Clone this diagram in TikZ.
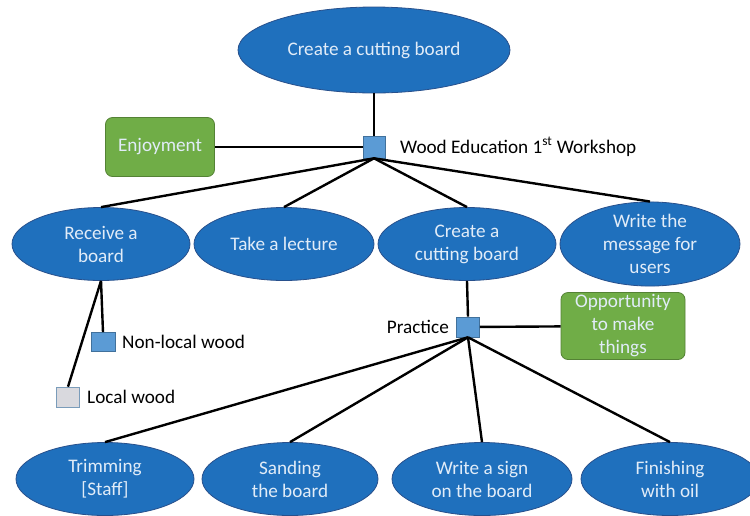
\documentclass[tikz,border=0pt]{standalone}
\usepackage{fontspec}
\setmainfont{Carlito}
\usetikzlibrary{shapes.geometric}
\definecolor{ovalblue}{RGB}{31,112,189}
\definecolor{ovalline}{RGB}{40,80,140}
\definecolor{ovaltext}{RGB}{225,236,248}
\definecolor{boxgreen}{RGB}{112,173,71}
\definecolor{boxline}{RGB}{84,130,53}
\definecolor{sqblue}{RGB}{91,155,213}
\definecolor{sqline}{RGB}{65,113,156}
\definecolor{sqgray}{RGB}{217,217,222}

\begin{document}
\begin{tikzpicture}[x=1pt,y=-1pt,
	oval/.style={ellipse,draw=ovalline,fill=ovalblue,text=ovaltext,line width=0.8pt,inner sep=0pt,
		minimum width=178pt,minimum height=73pt,align=center,font=\fontsize{19.2}{23}\selectfont},
	gbox/.style={rectangle,rounded corners=7pt,draw=boxline,fill=boxgreen,text=ovaltext,line width=0.8pt,
		inner sep=0pt,align=center,font=\fontsize{19.2}{23}\selectfont},
	sq/.style={rectangle,draw=sqline,fill=sqblue,line width=0.6pt,inner sep=0pt,minimum size=22pt},
	lbl/.style={font=\fontsize{19.2}{22}\selectfont,inner sep=0pt},
	link/.style={line width=2.4pt}]
		\useasboundingbox (0,0) rectangle (750,515);
		\fill [white] (0,0) rectangle (750,515);
		
		% top level
		\node [oval,minimum width=272pt,minimum height=86pt] (top) at (374,50) {Create a cutting board};
		\node [sq] (ws) at (374,147) {};
		\node [lbl,anchor=west] (wslabel) at (400,147) {Wood Education 1\textsuperscript{st} Workshop};
		\node [gbox,minimum width=109pt,minimum height=59pt] (enjoy) at (160,147) {Enjoyment};
		
		% second row
		\node [oval] (recv) at (101,244) {Receive a\\board};
		\node [oval,minimum width=180pt] (lect) at (284,244) {Take a lecture};
		\node [oval] (cut) at (467,244) {Create a\\cutting board};
		\node [oval,minimum width=180pt] (msg) at (650,244) {Write the\\message for\\users};
		
		% wood kinds
		\node [sq,minimum width=24pt,minimum height=19pt] (nonlocal) at (103,342) {};
		\node [lbl,anchor=west] (nonlocallabel) at (122,342) {Non-local wood};
		\node [sq,fill=sqgray,draw=sqline!70,minimum width=23pt,minimum height=20pt] (local) at (68,397) {};
		\node [lbl,anchor=west] (locallabel) at (87,397) {Local wood};
		
		% practice
		\node [sq,minimum width=23pt,minimum height=20pt] (ps) at (468,327) {};
		\node [lbl,anchor=east] (pslabel) at (449,327) {Practice};
		\node [gbox,minimum width=124pt,minimum height=67pt] (opp) at (623,326) {Opportunity\\to make\\things};
		
		% bottom row
		\node [oval] (trim) at (105,479) {Trimming\\{[Staff]}};
		\node [oval,minimum width=176pt] (sand) at (290,479) {Sanding\\the board};
		\node [oval,minimum width=180pt] (sign) at (482,479) {Write a sign\\on the board};
		\node [oval] (oil) at (670,479) {Finishing\\with oil};
		
		\draw [link] (top) -- (ws);
		\draw [link] (enjoy) -- (ws);
		\draw [link] (ws.south) -- (recv.north);
		\draw [link] (ws.south) -- (lect.north);
		\draw [link] (ws.south) -- (cut.north);
		\draw [link] (ws.south) -- (msg.north);
		
		\draw [link] (recv.south) -- (nonlocal.north);
		\draw [link] (recv.south) -- (local.north);
		
		\draw [link] (cut.south) -- (ps.north);
		\draw [link] (ps) -- (opp);
		\draw [link] (ps.south) -- (trim.north);
		\draw [link] (ps.south) -- (sand.north);
		\draw [link] (ps.south) -- (sign.north);
		\draw [link] (ps.south) -- (oil.north);
\end{tikzpicture}
\end{document}
